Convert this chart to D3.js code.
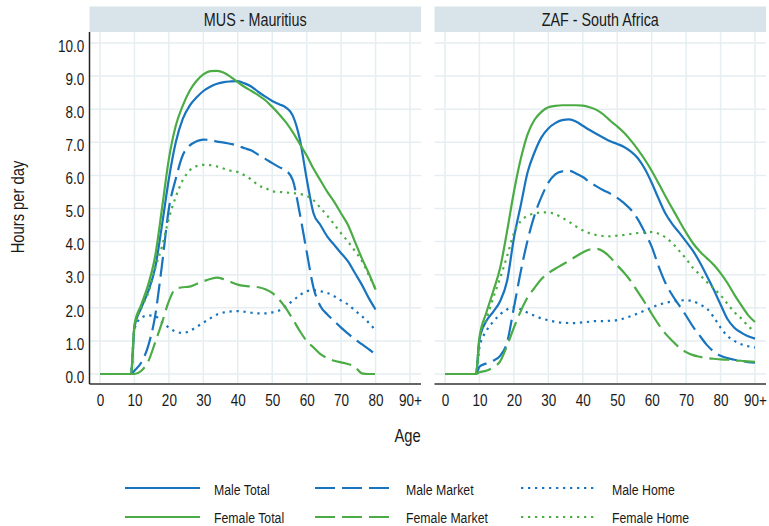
<!DOCTYPE html>
<html>
<head>
<meta charset="utf-8">
<script src="https://cdn.jsdelivr.net/npm/d3@7"></script>
<style>
  body { margin: 0; background: #fff; }
  svg { display: block; font-family: "Liberation Sans", Arial, sans-serif; }
</style>
</head>
<body>
<div id="chart"></div>
<script>
// ages on the x axis
const agesMUS = [0, 9, 10, 12, 14, 16, 18, 20, 22, 24, 26, 28, 30, 32, 34, 36, 38, 40, 42, 44, 46, 48,
  50, 52, 54, 56, 58, 60, 62, 64, 66, 68, 70, 72, 74, 76, 78, 80];
const agesZAF = [0, 9, 10, 12, 14, 16, 18, 20, 22, 24, 26, 28, 30, 32, 34, 36, 38, 40, 42, 44, 46, 48,
  50, 52, 54, 56, 58, 60, 62, 64, 66, 68, 70, 72, 74, 76, 78, 80, 82, 84, 86, 88, 90];

// hours per day, Mauritius
const musMaleTotal = [0, 0, 1.4, 2.0, 2.5, 3.2, 4.5, 5.9, 7.0, 7.7, 8.1, 8.35, 8.55, 8.68, 8.77, 8.82, 8.84, 8.85,
  8.78, 8.68, 8.52, 8.38, 8.25, 8.15, 8.05, 7.8, 7.1, 5.9, 4.85, 4.5, 4.15, 3.9, 3.65, 3.4, 3.05, 2.7, 2.3, 1.95];
const musMaleMarket = [0, 0, 0.1, 0.35, 0.85, 1.75, 3.3, 5.0, 5.9, 6.6, 6.9, 7.03, 7.08, 7.07, 7.02, 6.99, 6.95, 6.9,
  6.82, 6.75, 6.62, 6.5, 6.37, 6.25, 6.15, 5.85, 4.85, 3.7, 2.6, 2.05, 1.8, 1.6, 1.4, 1.22, 1.05, 0.9, 0.75, 0.6];
const musMaleHome = [0, 0, 1.35, 1.7, 1.77, 1.75, 1.57, 1.4, 1.28, 1.24, 1.3, 1.42, 1.55, 1.68, 1.8, 1.86, 1.89, 1.9,
  1.88, 1.85, 1.83, 1.83, 1.86, 1.92, 2.05, 2.22, 2.38, 2.5, 2.53, 2.5, 2.45, 2.35, 2.22, 2.1, 1.92, 1.75, 1.55, 1.32];
const musFemaleTotal = [0, 0, 1.5, 2.1, 2.7, 3.55, 5.0, 6.5, 7.5, 8.1, 8.55, 8.85, 9.05, 9.15, 9.16, 9.1, 8.97, 8.82,
  8.67, 8.55, 8.42, 8.27, 8.07, 7.85, 7.6, 7.3, 6.95, 6.6, 6.2, 5.85, 5.5, 5.2, 4.85, 4.5, 4.0, 3.5, 3.05, 2.55];
const musFemaleMarket = [0, 0, 0, 0.1, 0.38, 0.95, 1.55, 2.2, 2.58, 2.62, 2.64, 2.72, 2.8, 2.87, 2.91, 2.86, 2.78, 2.7,
  2.66, 2.64, 2.62, 2.56, 2.45, 2.25, 1.98, 1.65, 1.3, 1.0, 0.8, 0.6, 0.48, 0.4, 0.35, 0.3, 0.22, 0.02, 0, 0];
const musFemaleHome = [0, 0, 1.4, 2.0, 2.45, 3.2, 3.85, 4.7, 5.35, 5.85, 6.15, 6.28, 6.32, 6.31, 6.27, 6.2, 6.14, 6.1,
  6.0, 5.87, 5.7, 5.62, 5.52, 5.5, 5.48, 5.47, 5.44, 5.38, 5.25, 5.02, 4.78, 4.52, 4.25, 4.0, 3.72, 3.42, 3.0, 2.57];

// hours per day, South Africa
const zafMaleTotal = [0, 0, 1.05, 1.6, 1.88, 2.2, 2.8, 4.1, 5.1, 6.1, 6.7, 7.15, 7.42, 7.58, 7.67, 7.69, 7.63, 7.5,
  7.37, 7.25, 7.14, 7.03, 6.95, 6.86, 6.72, 6.52, 6.2, 5.78, 5.3, 4.85, 4.53, 4.27, 4.0, 3.72, 3.37, 2.97, 2.55, 2.1,
  1.66, 1.4, 1.25, 1.14, 1.07];
const zafMaleMarket = [0, 0, 0.22, 0.32, 0.4, 0.55, 0.95, 2.0, 3.1, 4.05, 4.8, 5.35, 5.78, 6.03, 6.12, 6.14, 6.06, 5.95,
  5.8, 5.67, 5.55, 5.45, 5.32, 5.16, 4.96, 4.67, 4.28, 3.85, 3.26, 2.75, 2.38, 2.07, 1.76, 1.43, 1.15, 0.88, 0.68, 0.55,
  0.48, 0.43, 0.39, 0.36, 0.34];
const zafMaleHome = [0, 0, 0.8, 1.3, 1.58, 1.8, 1.95, 2.02, 1.95, 1.85, 1.76, 1.68, 1.62, 1.58, 1.55, 1.54, 1.54, 1.56,
  1.58, 1.6, 1.6, 1.61, 1.63, 1.68, 1.75, 1.83, 1.92, 2.01, 2.09, 2.15, 2.19, 2.22, 2.23, 2.2, 2.1, 1.98, 1.72, 1.4,
  1.15, 1.0, 0.9, 0.84, 0.8];
const zafFemaleTotal = [0, 0, 1.1, 1.85, 2.5, 3.2, 4.3, 5.5, 6.5, 7.25, 7.68, 7.92, 8.06, 8.1, 8.12, 8.12, 8.12, 8.11,
  8.06, 7.98, 7.84, 7.65, 7.48, 7.29, 7.05, 6.78, 6.48, 6.14, 5.76, 5.37, 5.0, 4.63, 4.27, 3.95, 3.7, 3.5, 3.3, 3.05,
  2.75, 2.4, 2.08, 1.78, 1.57];
const zafFemaleMarket = [0, 0, 0.05, 0.1, 0.2, 0.38, 0.85, 1.4, 1.9, 2.32, 2.6, 2.87, 3.05, 3.18, 3.3, 3.42, 3.55, 3.67,
  3.76, 3.78, 3.7, 3.52, 3.28, 3.06, 2.8, 2.48, 2.16, 1.82, 1.5, 1.22, 1.0, 0.8, 0.66, 0.57, 0.52, 0.48, 0.46, 0.44,
  0.43, 0.41, 0.4, 0.38, 0.37];
const zafFemaleHome = [0, 0, 1.1, 1.65, 2.3, 2.9, 3.55, 4.25, 4.62, 4.78, 4.85, 4.88, 4.88, 4.83, 4.72, 4.6, 4.46, 4.34,
  4.25, 4.2, 4.17, 4.16, 4.18, 4.2, 4.23, 4.26, 4.28, 4.29, 4.24, 4.13, 3.95, 3.72, 3.48, 3.2, 3.0, 2.78, 2.58, 2.38,
  2.12, 1.87, 1.68, 1.45, 1.27];

const panelLabels = ['MUS - Mauritius', 'ZAF - South Africa'];
const seriesNames = ['Male Total', 'Male Market', 'Male Home', 'Female Total', 'Female Market', 'Female Home'];
const xTickValues = [0, 10, 20, 30, 40, 50, 60, 70, 80, 90];
const xTickLabels = ['0', '10', '20', '30', '40', '50', '60', '70', '80', '90+'];
const yTickValues = [0, 1, 2, 3, 4, 5, 6, 7, 8, 9, 10];

const panels = [
  { label: panelLabels[0], ages: agesMUS,
    values: [musMaleTotal, musMaleMarket, musMaleHome, musFemaleTotal, musFemaleMarket, musFemaleHome] },
  { label: panelLabels[1], ages: agesZAF,
    values: [zafMaleTotal, zafMaleMarket, zafMaleHome, zafFemaleTotal, zafFemaleMarket, zafFemaleHome] },
];

const blue = '#1874be';
const green = '#4bac46';
const textColor = '#1a1a1a';
const narrow = 'scale(0.82, 1)'; // squeeze a regular face into a condensed one
const styleOf = (name) => ({
  color: name.startsWith('Male') ? blue : green,
  dash: name.endsWith('Market') ? '20,7' : name.endsWith('Home') ? '2.3,4.7' : null,
});

const canvasWidth = 769;
const canvasHeight = 526;
const stripTop = 6.5;
const panelTop = 32;
const panelBottom = 384;
const panelEdges = [[89.5, 421], [434.5, 766]];

const svg = d3.select('#chart')
  .append('svg')
  .attr('width', canvasWidth)
  .attr('height', canvasHeight)
  .attr('viewBox', `0 0 ${canvasWidth} ${canvasHeight}`);

// narrow text placed at x, y
function label(parent, x, y, text, size, anchor = 'start', rotate = 0) {
  return parent.append('g')
    .attr('transform', `translate(${x}, ${y}) rotate(${rotate}) ${narrow}`)
    .append('text')
      .attr('text-anchor', anchor)
      .attr('font-size', size)
      .attr('fill', textColor)
      .text(text);
}

const scaleY = d3.scaleLinear()
  .domain([0, 10])
  .range([374, 43]);

panels.forEach((panel, p) => {
  const [left, right] = panelEdges[p];
  const scaleX = d3.scaleLinear()
    .domain([0, 90])
    .range([left + 10.5, right - 11]);

  const g = svg.append('g').attr('class', 'panel');

  // strip
  g.append('rect')
    .attr('x', left)
    .attr('y', stripTop)
    .attr('width', right - left)
    .attr('height', panelTop - stripTop)
    .attr('fill', '#d9e4ea');
  label(g, (left + right) / 2, 25.5, panel.label, 17.5, 'middle');

  // grid
  g.append('g')
    .selectAll('line')
    .data(xTickValues)
    .enter()
    .append('line')
      .attr('x1', d => scaleX(d))
      .attr('x2', d => scaleX(d))
      .attr('y1', panelTop)
      .attr('y2', panelBottom)
      .attr('stroke', '#e6eef1')
      .attr('stroke-width', 1.5);
  g.append('g')
    .selectAll('line')
    .data(yTickValues)
    .enter()
    .append('line')
      .attr('x1', left)
      .attr('x2', right)
      .attr('y1', d => scaleY(d))
      .attr('y2', d => scaleY(d))
      .attr('stroke', '#e6eef1')
      .attr('stroke-width', 1.5);

  // lines
  const line = d3.line()
    .x(d => scaleX(d[0]))
    .y(d => scaleY(d[1]))
    .curve(d3.curveMonotoneX);

  seriesNames.forEach((name, i) => {
    const style = styleOf(name);
    g.append('path')
      .datum(panel.ages.map((a, j) => [a, panel.values[i][j]]))
      .attr('fill', 'none')
      .attr('stroke', style.color)
      .attr('stroke-width', 2.2)
      .attr('stroke-dasharray', style.dash)
      .attr('d', line);
  });

  // x axis
  const axisX = d3.axisBottom(scaleX)
    .tickValues(xTickValues)
    .tickFormat((d, i) => xTickLabels[i])
    .tickSize(0)
    .tickPadding(10);
  const ax = g.append('g')
    .attr('transform', `translate(0, ${panelBottom})`)
    .call(axisX);
  ax.select('.domain').remove();
  ax.selectAll('text')
    .attr('font-size', 16.5)
    .attr('font-family', null)
    .attr('fill', textColor)
    .attr('transform', narrow);
  g.append('line')
    .attr('x1', left)
    .attr('x2', right)
    .attr('y1', panelBottom)
    .attr('y2', panelBottom)
    .attr('stroke', '#666')
    .attr('stroke-width', 1.8);

  // y axis only on the first panel
  if (p === 0) {
    const axisY = d3.axisLeft(scaleY)
      .tickValues(yTickValues)
      .tickFormat(d3.format('.1f'))
      .tickSize(0)
      .tickPadding(6.3);
    const ay = g.append('g')
      .attr('transform', `translate(${left}, 0)`)
      .call(axisY);
    ay.select('.domain').remove();
    ay.selectAll('text')
      .attr('font-size', 16.5)
      .attr('font-family', null)
      .attr('dy', '0.5em')
      .attr('fill', textColor)
      .attr('transform', narrow);
    g.append('line')
      .attr('x1', left)
      .attr('x2', left)
      .attr('y1', panelTop)
      .attr('y2', panelBottom)
      .attr('stroke', '#222')
      .attr('stroke-width', 1.5);
  }
});

// axis titles
label(svg, 24, 207, 'Hours per day', 18, 'middle', -90);
label(svg, 407.5, 442, 'Age', 18, 'middle');

// legend, three columns by two rows
const legendLineX = [125, 315, 521];
const legendTextX = [214, 406, 612];
const legendRowY = [488, 517];
const legend = svg.append('g').attr('class', 'legend');
seriesNames.forEach((name, i) => {
  const col = i % 3;
  const row = Math.floor(i / 3);
  const style = styleOf(name);
  legend.append('line')
    .attr('x1', legendLineX[col])
    .attr('x2', legendLineX[col] + 75)
    .attr('y1', legendRowY[row])
    .attr('y2', legendRowY[row])
    .attr('stroke', style.color)
    .attr('stroke-width', 2.2)
    .attr('stroke-dasharray', style.dash);
  label(legend, legendTextX[col], legendRowY[row] + (row ? 5.5 : 7), name, 15);
});
</script>
</body>
</html>
